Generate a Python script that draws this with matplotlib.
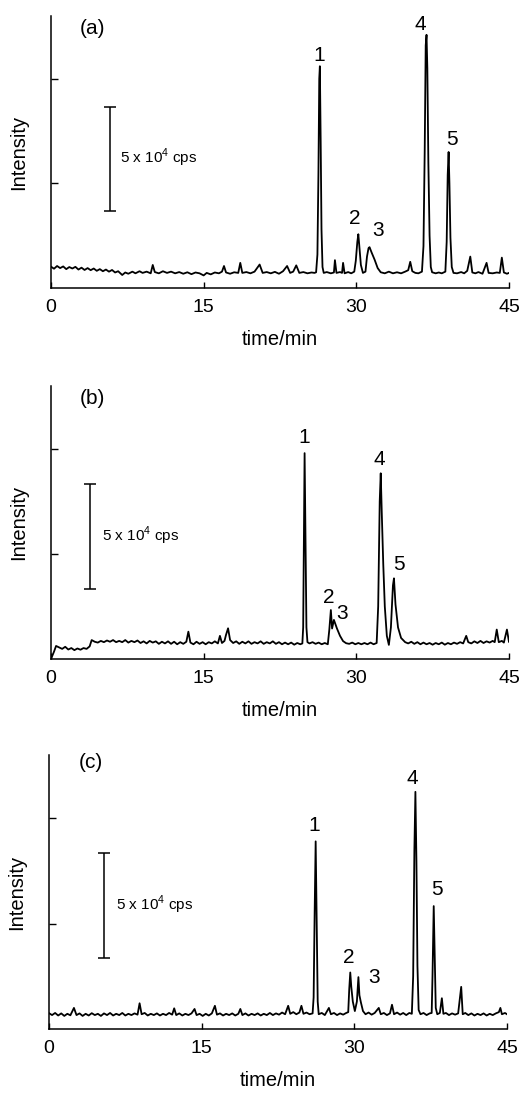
import matplotlib
matplotlib.use("Agg")
from matplotlib import pyplot as plt

plt.rcParams["font.family"] = ["Liberation Sans", "DejaVu Sans"]
plt.rcParams["mathtext.fontset"] = "custom"
plt.rcParams["mathtext.rm"] = "Liberation Sans"

# chromatogram traces: (time/min, intensity in 1e4 cps)
trace_a = [
    (0.0, 1.02), (0.3, 0.92), (0.6, 1.05), (0.9, 0.95), (1.2, 1.03), (1.5, 0.90), (1.8, 1.00),
    (2.1, 0.93), (2.4, 1.01), (2.7, 0.88), (3.0, 0.97), (3.3, 0.86), (3.6, 0.95), (3.9, 0.85),
    (4.2, 0.93), (4.5, 0.82), (4.8, 0.90), (5.1, 0.80), (5.4, 0.88), (5.7, 0.78), (6.0, 0.86),
    (6.3, 0.74), (6.6, 0.80), (7.0, 0.62), (7.3, 0.74), (7.6, 0.68), (8.0, 0.78), (8.3, 0.70),
    (8.7, 0.80), (9.0, 0.72), (9.4, 0.78), (9.8, 0.70), (10.0, 1.10), (10.2, 0.76), (10.6, 0.70),
    (11.0, 0.80), (11.4, 0.72), (11.8, 0.78), (12.2, 0.70), (12.6, 0.76), (13.0, 0.68),
    (13.4, 0.75), (13.8, 0.66), (14.2, 0.74), (14.6, 0.70), (15.0, 0.60), (15.3, 0.72),
    (15.7, 0.65), (16.1, 0.74), (16.5, 0.70), (16.8, 0.78), (17.0, 1.05), (17.2, 0.74),
    (17.6, 0.68), (18.0, 0.75), (18.4, 0.72), (18.6, 1.20), (18.8, 0.72), (19.2, 0.76),
    (19.6, 0.70), (20.0, 0.78), (20.5, 1.12), (20.8, 0.72), (21.2, 0.76), (21.6, 0.70),
    (22.0, 0.77), (22.4, 0.68), (22.8, 0.80), (23.2, 1.05), (23.5, 0.72), (23.8, 0.78),
    (24.1, 1.08), (24.4, 0.72), (24.8, 0.76), (25.2, 0.70), (25.6, 0.74), (25.9, 0.72),
    (26.05, 0.75), (26.18, 1.6), (26.28, 5.5), (26.36, 10.0), (26.42, 10.6), (26.5, 7.0),
    (26.58, 2.8), (26.68, 1.0), (26.8, 0.72), (27.1, 0.76), (27.5, 0.70), (27.8, 0.74),
    (27.9, 1.33), (28.05, 0.72), (28.4, 0.76), (28.6, 0.72), (28.7, 1.20), (28.85, 0.70),
    (29.2, 0.76), (29.5, 0.70), (29.8, 0.78), (29.95, 1.3), (30.1, 2.2), (30.2, 2.57),
    (30.3, 2.0), (30.45, 1.1), (30.65, 0.72), (30.9, 0.78), (31.05, 1.5), (31.2, 1.9),
    (31.3, 1.95), (31.5, 1.7), (31.8, 1.35), (32.1, 0.95), (32.4, 0.75), (32.8, 0.70),
    (33.2, 0.78), (33.6, 0.70), (34.0, 0.75), (34.4, 0.70), (34.8, 0.78), (35.1, 0.85),
    (35.3, 1.25), (35.5, 0.80), (35.8, 0.72), (36.1, 0.70), (36.45, 0.78), (36.6, 2.0),
    (36.72, 6.5), (36.82, 11.6), (36.9, 12.1), (36.98, 10.5), (37.08, 6.0), (37.2, 2.5),
    (37.32, 1.0), (37.45, 0.75), (37.8, 0.70), (38.1, 0.74), (38.4, 0.70), (38.75, 0.78),
    (38.88, 2.2), (38.98, 5.4), (39.07, 6.5), (39.15, 5.0), (39.25, 2.4), (39.38, 1.0),
    (39.55, 0.72), (39.9, 0.70), (40.3, 0.76), (40.6, 0.70), (40.9, 0.82), (41.2, 1.50),
    (41.4, 0.74), (41.7, 0.70), (42.0, 0.76), (42.4, 0.68), (42.8, 1.20), (43.0, 0.72),
    (43.4, 0.70), (43.8, 0.74), (44.1, 0.72), (44.3, 1.45), (44.5, 0.74), (44.8, 0.68),
    (45.0, 0.72),
]

trace_b = [
    (0.0, 0.0), (0.3, 0.35), (0.5, 0.62), (0.8, 0.55), (1.1, 0.48), (1.4, 0.58), (1.7, 0.45),
    (2.0, 0.52), (2.3, 0.42), (2.6, 0.50), (2.9, 0.44), (3.2, 0.52), (3.5, 0.48), (3.8, 0.60),
    (4.0, 0.90), (4.3, 0.82), (4.6, 0.78), (4.9, 0.86), (5.2, 0.80), (5.5, 0.88), (5.8, 0.82),
    (6.1, 0.90), (6.4, 0.80), (6.7, 0.86), (7.0, 0.80), (7.3, 0.90), (7.6, 0.78), (7.9, 0.86),
    (8.2, 0.80), (8.5, 0.88), (8.8, 0.76), (9.1, 0.84), (9.4, 0.74), (9.7, 0.86), (10.0, 0.78),
    (10.3, 0.84), (10.6, 0.72), (10.9, 0.82), (11.2, 0.74), (11.5, 0.84), (11.8, 0.72),
    (12.1, 0.82), (12.4, 0.70), (12.7, 0.80), (13.0, 0.72), (13.3, 0.82), (13.5, 1.30),
    (13.7, 0.78), (14.0, 0.70), (14.3, 0.82), (14.6, 0.72), (14.9, 0.80), (15.2, 0.70),
    (15.5, 0.80), (15.8, 0.74), (16.1, 0.84), (16.4, 0.74), (16.6, 1.10), (16.8, 0.76),
    (17.05, 0.86), (17.2, 1.15), (17.4, 1.46), (17.6, 0.90), (17.9, 0.76), (18.2, 0.84),
    (18.5, 0.72), (18.8, 0.82), (19.1, 0.74), (19.4, 0.84), (19.7, 0.72), (20.0, 0.80),
    (20.3, 0.74), (20.6, 0.84), (20.9, 0.72), (21.2, 0.80), (21.5, 0.74), (21.8, 0.84),
    (22.1, 0.72), (22.4, 0.80), (22.7, 0.70), (23.0, 0.78), (23.3, 0.70), (23.6, 0.78),
    (23.9, 0.68), (24.2, 0.76), (24.5, 0.70), (24.7, 0.74), (24.78, 1.5), (24.85, 6.0),
    (24.92, 9.8), (25.0, 6.0), (25.1, 1.5), (25.2, 0.80), (25.4, 0.74), (25.7, 0.80),
    (26.0, 0.72), (26.3, 0.78), (26.6, 0.70), (26.9, 0.76), (27.2, 0.70), (27.35, 1.4),
    (27.5, 2.33), (27.62, 1.45), (27.8, 1.86), (28.1, 1.45), (28.4, 1.1), (28.7, 0.85),
    (29.0, 0.75), (29.3, 0.72), (29.6, 0.78), (29.9, 0.70), (30.2, 0.76), (30.5, 0.70),
    (30.8, 0.76), (31.1, 0.70), (31.4, 0.78), (31.7, 0.70), (32.0, 0.76), (32.15, 2.5),
    (32.3, 7.5), (32.4, 8.84), (32.5, 7.0), (32.65, 4.5), (32.8, 2.5), (33.0, 1.1),
    (33.2, 0.67), (33.4, 1.5), (33.6, 3.5), (33.7, 3.84), (33.85, 2.6), (34.1, 1.5),
    (34.4, 1.0), (34.8, 0.80), (35.1, 0.74), (35.4, 0.82), (35.7, 0.72), (36.0, 0.80),
    (36.3, 0.70), (36.6, 0.78), (36.9, 0.70), (37.2, 0.76), (37.5, 0.68), (37.8, 0.76),
    (38.1, 0.70), (38.4, 0.78), (38.7, 0.68), (39.0, 0.76), (39.3, 0.70), (39.6, 0.78),
    (39.9, 0.72), (40.2, 0.80), (40.5, 0.74), (40.8, 1.10), (41.0, 0.80), (41.3, 0.74),
    (41.6, 0.84), (41.9, 0.76), (42.2, 0.86), (42.5, 0.76), (42.8, 0.84), (43.1, 0.78),
    (43.4, 0.86), (43.6, 0.80), (43.8, 1.40), (44.0, 0.80), (44.3, 0.86), (44.5, 0.78),
    (44.8, 1.40), (45.0, 0.82),
]

trace_c = [
    (0.0, 0.75), (0.3, 0.66), (0.6, 0.76), (0.9, 0.64), (1.2, 0.74), (1.5, 0.62), (1.8, 0.72),
    (2.1, 0.65), (2.45, 1.0), (2.7, 0.66), (3.0, 0.74), (3.3, 0.62), (3.6, 0.72), (3.9, 0.64),
    (4.2, 0.75), (4.5, 0.66), (4.8, 0.72), (5.1, 0.62), (5.4, 0.74), (5.7, 0.66), (6.0, 0.76),
    (6.3, 0.64), (6.6, 0.72), (6.9, 0.66), (7.2, 0.76), (7.5, 0.64), (7.8, 0.72), (8.1, 0.66),
    (8.4, 0.74), (8.7, 0.68), (8.9, 1.22), (9.1, 0.70), (9.4, 0.76), (9.7, 0.64), (10.0, 0.72),
    (10.3, 0.66), (10.6, 0.74), (10.9, 0.64), (11.2, 0.72), (11.5, 0.66), (11.8, 0.76),
    (12.1, 0.68), (12.3, 0.98), (12.5, 0.66), (12.8, 0.74), (13.1, 0.64), (13.4, 0.72),
    (13.7, 0.66), (14.0, 0.74), (14.3, 0.95), (14.5, 0.66), (14.8, 0.72), (15.1, 0.62),
    (15.4, 0.72), (15.7, 0.64), (16.0, 0.74), (16.3, 1.10), (16.5, 0.68), (16.8, 0.74),
    (17.1, 0.64), (17.4, 0.72), (17.7, 0.66), (18.0, 0.74), (18.3, 0.64), (18.6, 0.72),
    (18.8, 0.95), (19.0, 0.66), (19.3, 0.74), (19.6, 0.64), (19.9, 0.72), (20.2, 0.66),
    (20.5, 0.74), (20.8, 0.64), (21.1, 0.72), (21.4, 0.66), (21.7, 0.76), (22.0, 0.66),
    (22.3, 0.74), (22.6, 0.68), (22.9, 0.78), (23.2, 0.70), (23.5, 1.10), (23.7, 0.72),
    (24.0, 0.80), (24.3, 0.70), (24.6, 0.78), (24.8, 1.10), (25.0, 0.72), (25.3, 0.78),
    (25.6, 0.70), (25.9, 0.74), (26.0, 1.5), (26.1, 5.5), (26.2, 8.9), (26.3, 5.0),
    (26.4, 1.3), (26.5, 0.70), (26.8, 0.76), (27.1, 0.66), (27.5, 1.00), (27.7, 0.70),
    (28.0, 0.76), (28.3, 0.66), (28.6, 0.74), (28.9, 0.68), (29.2, 0.76), (29.4, 0.80),
    (29.5, 1.9), (29.6, 2.68), (29.7, 2.0), (29.85, 1.3), (30.05, 0.85), (30.25, 1.3),
    (30.4, 2.46), (30.5, 1.6), (30.65, 1.25), (30.85, 0.85), (31.1, 0.70), (31.4, 0.78),
    (31.7, 0.68), (32.0, 0.76), (32.4, 1.00), (32.6, 0.70), (32.9, 0.76), (33.2, 0.66),
    (33.5, 0.74), (33.7, 1.15), (33.9, 0.70), (34.2, 0.78), (34.5, 0.68), (34.8, 0.76),
    (35.1, 0.66), (35.4, 0.76), (35.65, 0.72), (35.78, 2.5), (35.9, 8.5), (36.0, 11.25),
    (36.1, 8.0), (36.2, 3.0), (36.32, 0.90), (36.5, 0.70), (36.8, 0.76), (37.1, 0.66),
    (37.4, 0.74), (37.6, 0.76), (37.68, 2.5), (37.8, 5.83), (37.9, 3.5), (38.0, 1.0),
    (38.15, 0.70), (38.4, 0.76), (38.6, 1.46), (38.75, 0.72), (39.0, 0.76), (39.3, 0.66),
    (39.6, 0.74), (39.9, 0.68), (40.2, 0.74), (40.5, 2.00), (40.65, 0.70), (40.9, 0.76),
    (41.2, 0.66), (41.5, 0.74), (41.8, 0.64), (42.1, 0.72), (42.4, 0.66), (42.7, 0.74),
    (43.0, 0.64), (43.3, 0.72), (43.6, 0.66), (43.9, 0.74), (44.2, 0.80), (44.35, 1.00),
    (44.5, 0.70), (44.8, 0.76), (45.0, 0.70),
]

peak_names = ["1", "2", "3", "4", "5"]
label_pos_a = [(26.4, 11.1), (29.8, 3.3), (32.1, 2.75), (36.3, 12.6), (39.4, 7.1)]
label_pos_b = [(24.9, 10.55), (27.25, 2.94), (28.65, 2.17), (32.3, 9.48), (34.2, 4.5)]
label_pos_c = [(26.1, 9.63), (29.5, 3.37), (31.9, 2.46), (35.7, 11.9), (38.1, 6.62)]

bar_height = 5  # 5 x 10^4 cps
xticks = [0, 15, 30, 45]
yticks = [5, 10]

panels = [
    # trace, labels, tag, tag pos, bar (x, bottom), bar text pos, axes rect
    (trace_a, label_pos_a, "(a)", (2.85, 12.4), (5.8, 3.67), (6.8, 6.2), [0.096, 0.7375, 0.8625, 0.2479]),
    (trace_b, label_pos_b, "(b)", (2.85, 12.4), (3.85, 3.33), (5.0, 5.87), [0.096, 0.3993, 0.8625, 0.2489]),
    (trace_c, label_pos_c, "(c)", (2.95, 12.65), (5.4, 3.35), (6.55, 5.9), [0.0923, 0.0620, 0.8625, 0.2498]),
]

fig = plt.figure(figsize=(5.31, 10.97), dpi=100)

for trace, label_pos, tag, tag_pos, bar, bar_text, rect in panels:
    ax = fig.add_axes(rect)
    times = [p[0] for p in trace]
    values = [p[1] for p in trace]
    ax.plot(times, values, color="black", lw=1.3)

    for name, (lx, ly) in zip(peak_names, label_pos):
        ax.text(lx, ly, name, ha="center", va="center", fontsize=15)
    ax.text(tag_pos[0], tag_pos[1], tag, ha="left", va="center", fontsize=15)

    ax.errorbar(bar[0], bar[1] + bar_height / 2, yerr=bar_height / 2,
                color="black", lw=1.1, capsize=4, capthick=1.1)
    ax.text(bar_text[0], bar_text[1], r"5 x 10$^\mathregular{4}$ cps",
            ha="left", va="center", fontsize=11)

    ax.set_xlim(0, 45)
    ax.set_ylim(0, 13)
    ax.set_xticks(xticks)
    ax.set_yticks(yticks)
    ax.set_yticklabels([])
    ax.tick_params(axis="x", direction="in", length=4.5, width=1.0, labelsize=14, pad=8)
    ax.tick_params(axis="y", direction="in", length=5, width=1.0)
    for side in ["top", "right"]:
        ax.spines[side].set_visible(False)
    for side in ["left", "bottom"]:
        ax.spines[side].set_linewidth(1.1)
    ax.set_xlabel("time/min", fontsize=14.5, labelpad=10)
    ax.set_ylabel("Intensity", fontsize=14.5)
    ax.yaxis.set_label_coords(-0.05, 0.5)

plt.savefig("out.png", dpi=100)
plt.close()
